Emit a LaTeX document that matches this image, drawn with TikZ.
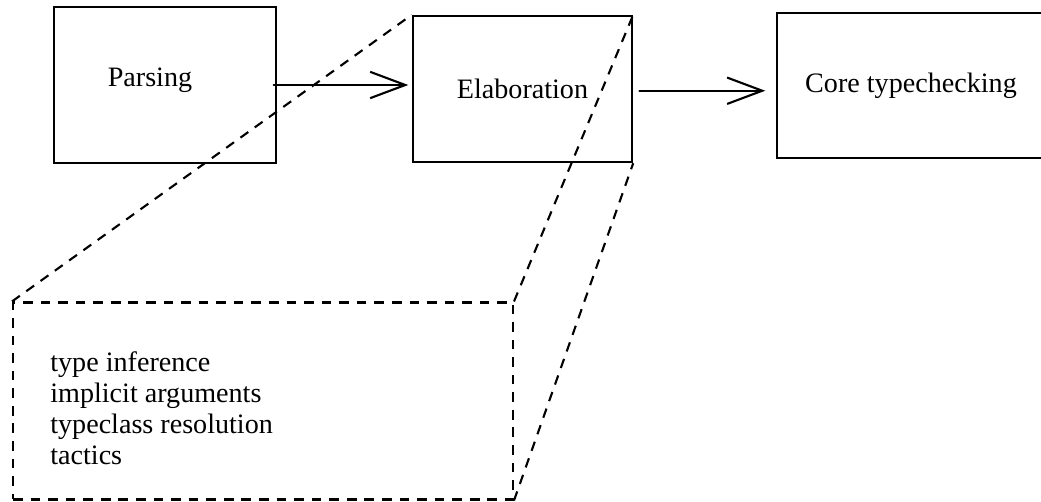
\documentclass[tikz,border=0pt]{standalone}
\usepackage{fontspec}
\setmainfont{Liberation Serif}
\usetikzlibrary{arrows.meta,positioning}

\begin{document}
\begin{tikzpicture}[
  x=0.02cm,y=-0.02cm,
  font=\fontsize{16}{17.6}\selectfont,
  >={Straight Barb[length=20pt,width=15pt,line width=1.2pt]},
  stage/.style={draw,line width=1.4pt,inner sep=0pt},
  zoomed/.style={draw,line width=1.2pt,dash pattern=on 5.5pt off 4.5pt,inner sep=0pt},
  guide/.style={line width=1.2pt,dash pattern=on 5.5pt off 4.5pt},
  flow/.style={->,line width=1.2pt,line cap=round,line join=round},
  txt/.style={inner sep=0pt},
]
\clip (0,0) rectangle (1041,502);

% the three stages
\node[stage,minimum width=4.44cm,minimum height=3.12cm] (parsing) at (165,85) {};
\node[txt] (parsinglbl) at (150,80) {Parsing};
\node[stage,minimum width=4.38cm,minimum height=2.92cm] (elab) at (522.5,89) {Elaboration};
\node[stage,minimum width=5.36cm,minimum height=2.90cm] (core) at (911,85.5) {Core typechecking};

% what elaboration does
\node[zoomed,minimum width=10cm,minimum height=3.94cm] (detail) at (263,401) {};
\node[txt,align=left,anchor=west] (tasks) at (50,408)
     {type inference\\ implicit arguments\\ typeclass resolution\\ tactics};

% zoom lines
\draw[guide] (detail.north west) -- (elab.north west);
\draw[guide] (detail.north east) -- (elab.north east);
\draw[guide] (detail.south east) -- (elab.south east);

% pipeline
\draw[flow,shorten <=-2pt,shorten >=2pt] (parsing.east) -- (parsing.east -| elab.west);
\draw[flow,shorten <=3.5pt,shorten >=6pt] ([yshift=-1pt]elab.east) -- ([yshift=-1pt]elab.east -| core.west);

\end{tikzpicture}
\end{document}
